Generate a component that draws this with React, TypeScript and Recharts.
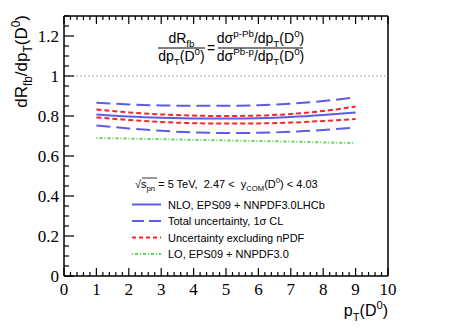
import { LineChart, Line, XAxis, YAxis, ReferenceLine, Customized } from "recharts";

// pT(D0) points where the curves are sampled
const ptValues = [1, 2, 3, 4, 5, 6, 7, 8, 9];
// NLO, EPS09 + NNPDF3.0LHCb (central)
const nloCentral = [0.807, 0.797, 0.791, 0.788, 0.787, 0.789, 0.795, 0.805, 0.818];
// total uncertainty band, 1 sigma
const totalUpper = [0.866, 0.858, 0.853, 0.851, 0.851, 0.854, 0.862, 0.875, 0.893];
const totalLower = [0.752, 0.738, 0.726, 0.718, 0.715, 0.716, 0.721, 0.73, 0.742];
// uncertainty without nPDF
const noNpdfUpper = [0.833, 0.818, 0.808, 0.802, 0.8, 0.802, 0.81, 0.825, 0.847];
const noNpdfLower = [0.793, 0.78, 0.77, 0.764, 0.762, 0.763, 0.767, 0.775, 0.785];
// LO, EPS09 + NNPDF3.0
const loCentral = [0.69, 0.687, 0.684, 0.681, 0.678, 0.675, 0.672, 0.668, 0.665];

const xMajor = [0, 1, 2, 3, 4, 5, 6, 7, 8, 9, 10];
const yMajor = [0, 0.2, 0.4, 0.6, 0.8, 1, 1.2];
const xTicks = Array.from({ length: 51 }, (_, i) => i / 5);
const yTicks = Array.from({ length: 27 }, (_, i) => i / 20);

const data = ptValues.map((pt, i) => ({
  pt,
  nlo: nloCentral[i],
  totUp: totalUpper[i],
  totLo: totalLower[i],
  exUp: noNpdfUpper[i],
  exLo: noNpdfLower[i],
  lo: loCentral[i],
}));

const SERIF = "'Liberation Serif', 'DejaVu Serif', serif";
const SANS = "'Liberation Sans', Arial, sans-serif";
const BLUE = "#5c5ce6";
const RED = "#ff2222";
const GREEN = "#5cd65c";

const isMajor = (v: number, list: number[]) => list.some((m) => Math.abs(m - v) < 1e-6);

function BottomTick({ x, y, payload }: any) {
  const major = isMajor(payload.value, xMajor);
  return (
    <g>
      <line x1={x} x2={x} y1={y} y2={y - (major ? 8 : 4)} stroke="#000" strokeWidth={1.2} />
      {major && (
        <text x={x} y={y + 19} textAnchor="middle" fontFamily={SERIF} fontSize={17} fill="#000">
          {String(Math.round(payload.value))}
        </text>
      )}
    </g>
  );
}

function TopTick({ x, y, payload }: any) {
  const major = isMajor(payload.value, xMajor);
  return <line x1={x} x2={x} y1={y} y2={y + (major ? 8 : 4)} stroke="#000" strokeWidth={1.2} />;
}

function LeftTick({ x, y, payload }: any) {
  const major = isMajor(payload.value, yMajor);
  return (
    <g>
      <line x1={x} x2={x + (major ? 10 : 5)} y1={y} y2={y} stroke="#000" strokeWidth={1.2} />
      {major && (
        <text x={x - 5} y={y + 6} textAnchor="end" fontFamily={SERIF} fontSize={17} fill="#000">
          {String(Math.round(payload.value * 10) / 10)}
        </text>
      )}
    </g>
  );
}

function RightTick({ x, y, payload }: any) {
  const major = isMajor(payload.value, yMajor);
  return <line x1={x} x2={x - (major ? 10 : 5)} y1={y} y2={y} stroke="#000" strokeWidth={1.2} />;
}

type Seg = [string, number?];

function Rich({ x, y, size, anchor = "start", segs, transform }: any) {
  let cur = 0;
  return (
    <text x={x} y={y} fontSize={size} textAnchor={anchor} fontFamily={SANS} fill="#000" transform={transform} style={{ whiteSpace: "pre" }}>
      {(segs as Seg[]).map(([t, k = 0], i) => {
        const target = k === 1 ? -0.42 * size : k === -1 ? 0.3 * size : 0;
        const dy = target - cur;
        cur = target;
        return (
          <tspan key={i} dy={dy} fontSize={k ? size * 0.7 : size}>
            {t}
          </tspan>
        );
      })}
    </text>
  );
}

const legendRows = [
  { label: "NLO, EPS09 + NNPDF3.0LHCb", color: BLUE, dash: undefined, y: 204.5 },
  { label: "Total uncertainty, 1\u03c3 CL", color: BLUE, dash: "12 5", y: 221 },
  { label: "Uncertainty excluding nPDF", color: RED, dash: "4 3", y: 237.5 },
  { label: "LO, EPS09 + NNPDF3.0", color: GREEN, dash: "1 2 3 2", y: 254 },
];

function Overlay() {
  return (
    <g>
      {/* y title */}
      <Rich
        x={27}
        y={15}
        size={17}
        anchor="end"
        transform="rotate(-90, 27, 15)"
        segs={[["dR"], ["fb", -1], ["/dp"], ["T", -1], ["(D"], ["0", 1], [")"]]}
      />
      {/* x title */}
      <Rich x={388} y={316} size={16} anchor="end" segs={[["p"], ["T", -1], ["(D"], ["0", 1], [")"]]} />

      {/* ratio definition */}
      <Rich x={181.5} y={43} size={14} anchor="middle" segs={[["dR"], ["fb", -1]]} />
      <line x1={158} x2={205} y1={48} y2={48} stroke="#000" strokeWidth={1} />
      <Rich x={181.5} y={61} size={14} anchor="middle" segs={[["dp"], ["T", -1], ["(D"], ["0", 1], [")"]]} />
      <Rich x={211} y={53} size={14} anchor="middle" segs={[["="]]} />
      <Rich
        x={260.5}
        y={43}
        size={14}
        anchor="middle"
        segs={[["d\u03c3"], ["p-Pb", 1], ["/dp"], ["T", -1], ["(D"], ["0", 1], [")"]]}
      />
      <line x1={218} x2={303} y1={48} y2={48} stroke="#000" strokeWidth={1} />
      <Rich
        x={260.5}
        y={61}
        size={14}
        anchor="middle"
        segs={[["d\u03c3"], ["Pb-p", 1], ["/dp"], ["T", -1], ["(D"], ["0", 1], [")"]]}
      />

      {/* legend header */}
      <Rich
        x={135}
        y={188}
        size={11}
        segs={[["\u221a"], ["s"], ["pn", -1], [" = 5 TeV,  2.47 <  y"], ["COM", -1], ["(D"], ["0", 1], [") < 4.03"]]}
      />
      <line x1={142} x2={157} y1={178} y2={178} stroke="#000" strokeWidth={0.8} />

      {legendRows.map((r) => (
        <g key={r.label}>
          <line x1={132} x2={161} y1={r.y} y2={r.y} stroke={r.color} strokeWidth={2} strokeDasharray={r.dash} />
          <text x={168} y={r.y + 4} fontFamily={SANS} fontSize={11} fill="#000">
            {r.label}
          </text>
        </g>
      ))}
    </g>
  );
}

export default function App() {
  return (
    <div style={{ position: "absolute", left: 0, top: 0, width: 457, height: 328, background: "#fff" }}>
      <LineChart width={457} height={328} data={data} margin={{ top: 6, right: 59, bottom: 22, left: 24 }}>
        <XAxis
          xAxisId="b"
          dataKey="pt"
          type="number"
          domain={[0, 10]}
          ticks={xTicks}
          interval={0}
          height={30}
          tickSize={0}
          tickMargin={0}
          tick={<BottomTick />}
          axisLine={{ stroke: "#000", strokeWidth: 1.5 }}
          tickLine={false}
        />
        <XAxis
          xAxisId="t"
          orientation="top"
          dataKey="pt"
          type="number"
          domain={[0, 10]}
          ticks={xTicks}
          interval={0}
          height={10}
          tickSize={0}
          tickMargin={0}
          tick={<TopTick />}
          axisLine={{ stroke: "#000", strokeWidth: 1.5 }}
          tickLine={false}
        />
        <YAxis
          yAxisId="l"
          type="number"
          domain={[0, 1.3]}
          ticks={yTicks}
          interval={0}
          width={40}
          tickSize={0}
          tickMargin={0}
          tick={<LeftTick />}
          axisLine={{ stroke: "#000", strokeWidth: 1.5 }}
          tickLine={false}
        />
        <YAxis
          yAxisId="r"
          orientation="right"
          type="number"
          domain={[0, 1.3]}
          ticks={yTicks}
          interval={0}
          width={10}
          tickSize={0}
          tickMargin={0}
          tick={<RightTick />}
          axisLine={{ stroke: "#000", strokeWidth: 1.5 }}
          tickLine={false}
        />
        <ReferenceLine xAxisId="b" yAxisId="l" y={1} stroke="#aaa" strokeDasharray="2 2" strokeWidth={1} />
        <Line xAxisId="b" yAxisId="l" type="monotone" dataKey="totUp" stroke={BLUE} strokeWidth={2} strokeDasharray="14 6" dot={false} isAnimationActive={false} />
        <Line xAxisId="b" yAxisId="l" type="monotone" dataKey="totLo" stroke={BLUE} strokeWidth={2} strokeDasharray="14 6" dot={false} isAnimationActive={false} />
        <Line xAxisId="b" yAxisId="l" type="monotone" dataKey="exUp" stroke={RED} strokeWidth={2} strokeDasharray="5 3" dot={false} isAnimationActive={false} />
        <Line xAxisId="b" yAxisId="l" type="monotone" dataKey="exLo" stroke={RED} strokeWidth={2} strokeDasharray="5 3" dot={false} isAnimationActive={false} />
        <Line xAxisId="b" yAxisId="l" type="monotone" dataKey="nlo" stroke={BLUE} strokeWidth={2} dot={false} isAnimationActive={false} />
        <Line xAxisId="b" yAxisId="l" type="monotone" dataKey="lo" stroke={GREEN} strokeWidth={2} strokeDasharray="1 2 3 2" dot={false} isAnimationActive={false} />
        <Customized component={<Overlay />} />
      </LineChart>
    </div>
  );
}
